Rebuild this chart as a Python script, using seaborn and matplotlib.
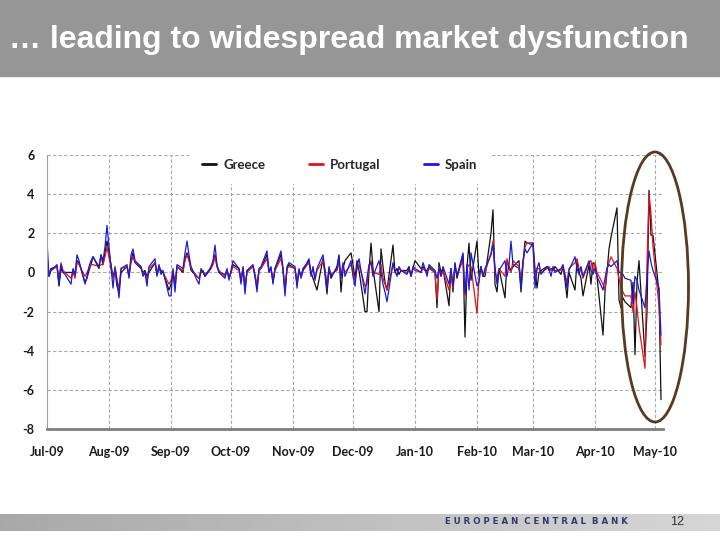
# %%
# Load libraries
import pandas as pd
import numpy as np
import matplotlib.pyplot as plt
import matplotlib.dates as mdates
from matplotlib.patches import Ellipse, Rectangle
import seaborn as sns

# %%
# Daily changes (business days, Jul-09 .. early May-10), one line per month
greece = [
    0.9, -0.2, 0.2, 0.3, -0.7, 0.2, 0.0, 0.0, 0.0, 0.0, -0.2, 0.6, 0.5, -0.5, -0.3, 0.1, 0.4, 0.8, 0.2, 0.9, 0.4, 1.0, 1.6,
    -0.2, 0.1, -0.7, -1.0, 0.0, 0.3, -0.2, 0.6, 1.0, 0.5, 0.2, 0.0, 0.1, -0.2, 0.0, 0.5, -0.1, 0.3, 0.1, 0.0, -0.9,
    -0.6, 0.0, -0.8, 0.3, 0.0, 0.7, 1.0, 0.7, 0.1, -0.2, -0.3, 0.0, 0.1, -0.2, 0.2, 0.5, 0.9, 0.3, 0.0, -0.1, 0.1, -0.3,
    0.0, 0.4, 0.2, -0.4, 0.2, -0.9, 0.1, 0.3, -0.2, -0.8, 0.1, 0.2, 0.9, 0.1, 0.2, -0.5, 0.2, 0.9, 0.1, -1.0, 0.2, 0.4,
    0.2, -0.6, 0.1, -0.2, 0.2, 0.6, 0.0, -0.3, -0.6, -0.9, 0.7, -0.1, -1.1, 0.2, -0.3, 0.3, 0.9, -1.0, 0.2, 0.6, 1.0,
    0.4, -0.3, 0.6, 0.1, -2.0, -2.0, 0.1, 1.5, 0.2, -2.0, 1.2, 0.3, -0.5, -0.9, 1.4, 0.0, 0.2, -0.1, 0.1, 0.1, 0.3, -0.2, 0.2,
    0.6, 0.2, 0.3, 0.1, 0.1, 0.3, 0.0, -1.8, 0.5, 0.0, 0.2, -1.7, 0.2, -1.0, 0.5, -0.3, 0.9, -3.3, 0.3, 1.5, -0.4,
    1.6, -0.2, 0.3, -0.2, -0.2, 2.0, 3.2, -0.6, -1.0, 0.2, -1.3, 0.6, 0.3, 0.1, 0.3, 0.6, -1.0, 0.4, 1.6, 1.5,
    1.5, 0.2, -0.8, 0.0, 0.1, 0.3, 0.1, 0.2, 0.1, 0.3, -0.1, 0.3, -0.4, -1.3, 0.0, -0.9, 0.6, 0.0, -0.3, -1.2, 0.4, -0.6, 0.5,
    0.4, -0.2, -3.2, -1.0, 0.0, 1.2, 1.8, 3.3, -1.4, -1.8, -1.3, -1.5, -1.8, -0.5, -4.2, -0.5, 0.6, -4.3, -2.0, 4.2, 1.9, 1.9,
    -1.0, -6.5,
]
portugal = [
    0.5, 0.0, 0.1, 0.3, -0.3, 0.5, 0.1, 0.0, -0.3, 0.1, -0.3, 0.5, 0.4, -0.2, 0.0, 0.2, 0.4, 0.4, 0.3, 0.4, 0.4, 0.8, 1.3,
    -0.3, 0.2, -0.4, -0.8, 0.2, 0.3, -0.1, 0.5, 0.8, 0.5, 0.3, -0.1, 0.0, -0.4, 0.2, 0.5, -0.1, 0.2, 0.0, 0.0, -0.6,
    -0.4, 0.1, -0.5, 0.3, 0.1, 0.6, 0.9, 0.6, 0.2, -0.2, -0.3, 0.1, 0.0, -0.1, 0.2, 0.4, 0.8, 0.3, 0.1, -0.2, 0.1, -0.2,
    0.0, 0.3, 0.1, -0.3, 0.2, -0.7, 0.0, 0.3, -0.1, -0.6, 0.1, 0.2, 0.7, 0.0, 0.2, -0.4, 0.1, 0.7, 0.2, -0.8, 0.2, 0.3,
    0.2, -0.5, 0.1, -0.2, 0.1, 0.5, -0.1, 0.2, -0.3, 0.1, 0.6, 0.1, -0.6, 0.2, -0.1, 0.1, 0.5, -0.2, 0.3, 0.0, 0.4,
    0.0, -0.4, 0.2, 0.4, -0.7, -0.6, 0.2, 0.6, 0.0, -0.1, 0.4, -0.3, -0.6, -0.9, 0.4, 0.0, -0.1, 0.2, 0.1, 0.0, 0.1, -0.1, 0.2,
    0.1, 0.0, 0.2, 0.1, 0.0, 0.2, 0.0, -1.4, 0.3, -0.2, 0.1, -0.9, 0.1, -0.8, 0.3, -0.1, 0.6, -1.2, 0.2, 0.4, 0.3,
    -2.1, -0.3, 0.2, -0.1, 0.0, 1.0, 1.6, 0.0, -0.3, 0.2, -0.2, 0.7, 0.2, 0.0, 0.6, 0.3, -0.3, 0.5, 1.3, 1.5,
    1.4, -0.3, 0.2, 0.2, 0.0, 0.2, 0.3, 0.1, 0.2, 0.1, 0.1, 0.3, -0.1, -0.5, 0.2, 0.5, 0.7, 0.2, 0.1, -0.3, 0.5, 0.6, 0.0,
    0.5, 0.0, -0.6, -0.9, 0.2, 0.5, 0.8, 0.2, -0.3, -0.8, -1.0, -1.2, -1.2, -2.0, -1.0, -1.8, -2.8, -4.9, 0.5, 4.0, 3.0, 1.3,
    -1.7, -3.7,
]
spain = [
    1.6, -0.2, 0.1, 0.4, -0.6, 0.4, 0.0, -0.1, -0.6, 0.2, -0.1, 0.9, 0.6, -0.6, -0.2, 0.3, 0.6, 0.8, 0.3, 0.9, 0.6, 1.3, 2.4,
    -0.8, 0.3, -0.4, -1.3, 0.2, 0.4, -0.3, 0.9, 1.2, 0.6, 0.3, -0.2, 0.0, -0.7, 0.3, 0.7, -0.2, 0.4, -0.1, 0.1, -1.2,
    -1.2, 0.2, -1.0, 0.4, 0.2, 1.0, 1.6, 0.9, 0.3, -0.4, -0.6, 0.2, 0.0, -0.2, 0.3, 0.6, 1.4, 0.4, 0.0, -0.3, 0.2, -0.4,
    0.1, 0.6, 0.2, -0.6, 0.3, -1.1, 0.1, 0.4, -0.2, -1.0, 0.2, 0.3, 1.1, 0.0, 0.3, -0.6, 0.2, 1.1, 0.2, -1.2, 0.3, 0.5,
    0.3, -0.8, 0.2, -0.3, 0.1, 0.7, -0.2, 0.3, -0.4, 0.2, 0.9, 0.1, -0.9, 0.3, -0.2, 0.2, 0.8, -0.3, 0.5, -0.2, 0.6,
    -0.2, -0.7, 0.3, 0.7, -1.1, -0.3, 0.4, 0.5, -0.2, 0.6, 0.0, -0.6, -1.0, -1.5, 0.5, 0.1, -0.2, 0.3, 0.1, -0.1, 0.2, -0.2, 0.3,
    0.2, 0.0, 0.5, 0.2, -0.2, 0.4, 0.1, -0.3, 0.2, -0.2, 0.3, -0.6, 0.2, -0.7, 0.4, -0.2, 1.0, -1.1, 0.4, -0.9, 1.0,
    -0.7, -0.5, 0.3, -0.2, 0.2, 0.9, 1.4, 0.3, -0.6, 0.1, 0.6, -0.2, 0.4, 1.6, 0.4, 0.2, -0.8, 0.6, 1.2, 1.0,
    1.5, -0.8, 0.2, 0.5, -0.1, 0.3, 0.2, -0.2, 0.3, 0.0, 0.2, 0.4, -0.2, -0.8, 0.1, 0.8, 0.2, -0.1, 0.3, -0.2, 0.6, 0.1, -0.1,
    0.2, -0.2, -0.9, -0.3, 0.2, 0.4, 0.3, 0.6, 0.0, 0.0, -0.1, -0.3, -0.4, -1.6, -0.2, -0.4, -0.9, -1.8, -0.2, 1.1, 0.5, 0.1,
    -0.8, -3.2,
]
countries = ['Greece', 'Portugal', 'Spain']
line_colors = ['#111111', '#e3141c', '#1a1ad8']
y_ticks = [6, 4, 2, 0, -2, -4, -6, -8]
title = '… leading to widespread market dysfunction'

# %%
# Long format for seaborn
dates = pd.bdate_range('2009-07-01', periods=len(greece))
df = pd.DataFrame({'date': dates, 'Greece': greece, 'Portugal': portugal, 'Spain': spain})
df = df.melt(id_vars='date', var_name='country', value_name='value')

# %%
sns.set_style('white')
plt.rcParams['font.family'] = ['Lato', 'DejaVu Sans']
plt.rcParams['axes.unicode_minus'] = False

fig = plt.figure(figsize=(7.2, 5.4), dpi=100)
W, H = 720, 540

# slide header
fig.add_artist(Rectangle((0, 1 - 76 / H), 1, 76 / H, transform=fig.transFigure,
                         color='#969696', zorder=0))
fig.text(9 / W, 1 - 40 / H, title, color='white', fontsize=23, fontweight='bold',
         family=['Liberation Sans', 'DejaVu Sans'], va='center', ha='left')

# chart
ax = fig.add_axes([47 / W, 1 - 429 / H, 616 / W, 274 / H])
sns.lineplot(data=df, x='date', y='value', hue='country', hue_order=countries,
             palette=line_colors, linewidth=0.9, ax=ax)
ax.set_xlim(pd.Timestamp('2009-07-01'), pd.Timestamp('2010-05-05'))
ax.set_ylim(-8, 6)
ax.set_yticks(y_ticks)
ax.xaxis.set_major_locator(mdates.MonthLocator())
ax.xaxis.set_major_formatter(mdates.DateFormatter('%b-%y'))
ax.set_xlabel('')
ax.set_ylabel('')
ax.grid(True, linestyle=(0, (3, 2)), color='#a8a8a8', linewidth=0.8)
for s in ['top', 'right']:
    ax.spines[s].set_visible(False)
ax.spines['left'].set_color('#a0a0a0')
ax.spines['left'].set_linewidth(0.8)
ax.spines['bottom'].set_color('#7f7f7f')
ax.spines['bottom'].set_linewidth(2)
ax.tick_params(axis='both', direction='out', length=3, width=0.8, color='#555555',
               labelsize=9, labelcolor='#1a1a1a')
ax.tick_params(axis='x', pad=9)
ax.tick_params(axis='y', pad=6)
for lab in ax.get_xticklabels() + ax.get_yticklabels():
    lab.set_fontweight('bold')

leg = ax.legend(loc='center', bbox_to_anchor=(0.475, 0.965), ncol=3, frameon=True,
                fancybox=False, handlelength=1.1, handletextpad=0.5, columnspacing=3.3,
                borderpad=1.0, prop={'weight': 'bold', 'size': 9.5})
leg.get_frame().set_facecolor('white')
leg.get_frame().set_edgecolor('none')
leg.get_frame().set_alpha(1)
for line in leg.get_lines():
    line.set_linewidth(2)

# highlight ellipse
fig.add_artist(Ellipse((655 / W, 1 - 287 / H), 67 / W, 270 / H, transform=fig.transFigure,
                       fill=False, edgecolor='#5a391f', linewidth=2))

# footer bar
fax = fig.add_axes([0, 1 - 531 / H, 1, 17 / H])
fax.imshow(np.linspace(0.66, 0.84, 256)[None, :], cmap='gray', vmin=0, vmax=1, aspect='auto')
fax.axis('off')
fig.text(536 / W, 1 - 522 / H, '  '.join(' '.join(w) for w in 'EUROPEAN CENTRAL BANK'.split()),
         color='#2e3a70', fontsize=6.2, fontweight='bold', ha='center', va='center',
         family='DejaVu Sans')
fig.text(677 / W, 1 - 522 / H, '12', color='#333333', fontsize=9, ha='center', va='center',
         family=['Liberation Sans', 'DejaVu Sans'])

fig.savefig('out.png', dpi=100)
